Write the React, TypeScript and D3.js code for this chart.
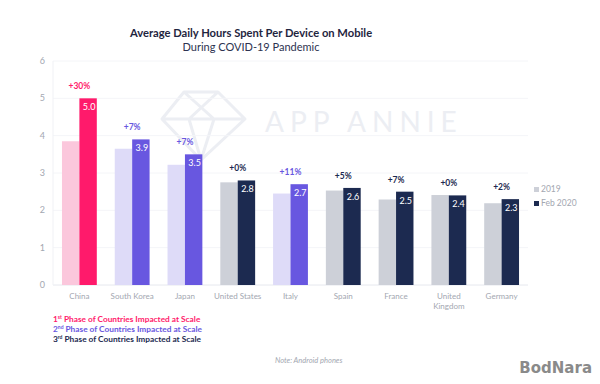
import * as d3 from 'd3';

const countries = ['China', 'South Korea', 'Japan', 'United States', 'Italy', 'Spain', 'France', 'United Kingdom', 'Germany'];
const hours2019 = [3.85, 3.65, 3.22, 2.75, 2.45, 2.53, 2.29, 2.41, 2.19];
const hoursFeb2020 = [5.0, 3.9, 3.5, 2.8, 2.7, 2.6, 2.5, 2.4, 2.3];
const growthLabels = ['+30%', '+7%', '+7%', '+0%', '+11%', '+5%', '+7%', '+0%', '+2%'];
const phaseOf = [1, 2, 2, 3, 2, 3, 3, 3, 3];
const yTicks = [0, 1, 2, 3, 4, 5, 6];
const seriesNames = ['2019', 'Feb 2020'];
const phaseNotes = [
  { n: '1', sup: 'st' },
  { n: '2', sup: 'nd' },
  { n: '3', sup: 'rd' },
];

const phaseColors: Record<number, { light: string; dark: string }> = {
  1: { light: '#fbc7dc', dark: '#ff1a6b' },
  2: { light: '#dedbf8', dark: '#6857e0' },
  3: { light: '#cdd0d8', dark: '#1c2a50' },
};

const FONT = "Lato, 'Open Sans', sans-serif";
const AXIS_GREY = '#a3a7b1';

export default function App() {
  const W = 600;
  const H = 384;
  const left = 53;
  const right = 528;
  const top = 61;
  const bottom = 285;

  const data = countries.map((c, i) => ({
    country: c,
    v2019: hours2019[i],
    vFeb: hoursFeb2020[i],
    growth: growthLabels[i],
    phase: phaseOf[i],
  }));

  const x = d3.scaleBand<string>().domain(countries).range([left, right]).paddingInner(0.34).paddingOuter(0.17);
  const inner = d3.scaleBand<string>().domain(seriesNames).range([0, x.bandwidth()]).padding(0);
  const y = d3.scaleLinear().domain([0, 6]).range([bottom, top]);

  // watermark gem outline
  const gem = d3.path();
  gem.moveTo(184, 92);
  gem.lineTo(218, 92);
  gem.lineTo(245, 119);
  gem.lineTo(201, 160);
  gem.lineTo(162, 119);
  gem.closePath();
  gem.moveTo(162, 119);
  gem.lineTo(245, 119);
  gem.moveTo(184, 92);
  gem.lineTo(214, 119);
  gem.lineTo(201, 160);
  gem.moveTo(218, 92);
  gem.lineTo(189, 119);
  gem.lineTo(201, 160);

  return (
    <svg width={W} height={H} style={{ position: 'absolute', left: 0, top: 0, background: '#fff' }} fontFamily={FONT}>
      <rect width={W} height={H} fill="#fff" />

      {/* title */}
      <text x={251} y={37} textAnchor="middle" fontSize={11.2} fontWeight={700} fill="#1f2540">
        Average Daily Hours Spent Per Device on Mobile
      </text>
      <text x={251} y={51} textAnchor="middle" fontSize={11} fill="#2d3350">
        During COVID-19 Pandemic
      </text>

      {/* watermark */}
      <path d={gem.toString()} fill="none" stroke="#eceef3" strokeWidth={3} strokeLinejoin="round" />
      <text x={265} y={132} fontSize={28} fill="#eceef3" letterSpacing={6}>
        APP ANNIE
      </text>

      {/* grid */}
      {yTicks.map((t) => (
        <g key={t}>
          <line x1={left} x2={right} y1={y(t)} y2={y(t)} stroke={t === 0 ? '#e6e8ee' : '#f4f5f8'} strokeWidth={1} />
          <text x={45} y={y(t) + 3} textAnchor="end" fontSize={9} fill={AXIS_GREY}>
            {t}
          </text>
        </g>
      ))}
      <line x1={left} x2={left} y1={top} y2={bottom} stroke="#f0f1f5" />

      {/* bars */}
      {data.map((d) => {
        const x0 = x(d.country) ?? 0;
        const bw = inner.bandwidth();
        const c = phaseColors[d.phase];
        const xa = x0 + (inner('2019') ?? 0);
        const xb = x0 + (inner('Feb 2020') ?? 0);
        const topY = Math.min(y(d.v2019), y(d.vFeb));
        const cx = x0 + x.bandwidth() / 2;
        return (
          <g key={d.country}>
            <rect x={xa} y={y(d.v2019)} width={bw} height={bottom - y(d.v2019)} fill={c.light} />
            <rect x={xb} y={y(d.vFeb)} width={bw} height={bottom - y(d.vFeb)} fill={c.dark} />
            <text x={xb + bw / 2 + 1} y={y(d.vFeb) + 12} textAnchor="middle" fontSize={9} fill="#fff">
              {d.vFeb.toFixed(1)}
            </text>
            <text x={cx} y={topY - 9} textAnchor="middle" fontSize={8.5} fontWeight={700} fill={c.dark}>
              {d.growth}
            </text>
            {d.country === 'United Kingdom' ? (
              <text x={cx} y={299} textAnchor="middle" fontSize={8} fill={AXIS_GREY}>
                <tspan x={cx}>United</tspan>
                <tspan x={cx} dy={10}>Kingdom</tspan>
              </text>
            ) : (
              <text x={cx} y={299} textAnchor="middle" fontSize={8} fill={AXIS_GREY}>
                {d.country}
              </text>
            )}
          </g>
        );
      })}

      {/* legend */}
      {seriesNames.map((s, i) => (
        <g key={s} transform={`translate(534, ${192 + i * 14})`}>
          <rect x={0} y={-5} width={5} height={5} fill={i === 0 ? phaseColors[3].light : phaseColors[3].dark} />
          <text x={7} y={0} fontSize={8.5} fill={AXIS_GREY}>
            {s}
          </text>
        </g>
      ))}

      {/* phase notes */}
      {phaseNotes.map((p, i) => (
        <text key={p.n} x={53} y={322 + i * 10} fontSize={8.3} fontWeight={700} fill={phaseColors[i + 1].dark}>
          {p.n}
          <tspan fontSize={5} dy={-3}>{p.sup}</tspan>
          <tspan dy={3}> Phase of Countries Impacted at Scale</tspan>
        </text>
      ))}

      <text x={275} y={363} fontSize={7.5} fontStyle="italic" fill="#a3a7b1">
        Note: Android phones
      </text>

      <text x={592} y={373} textAnchor="end" fontSize={15} fontWeight={700} fill="#8a8a8a" fontFamily="'DejaVu Sans', sans-serif">
        BodNara
      </text>
    </svg>
  );
}
